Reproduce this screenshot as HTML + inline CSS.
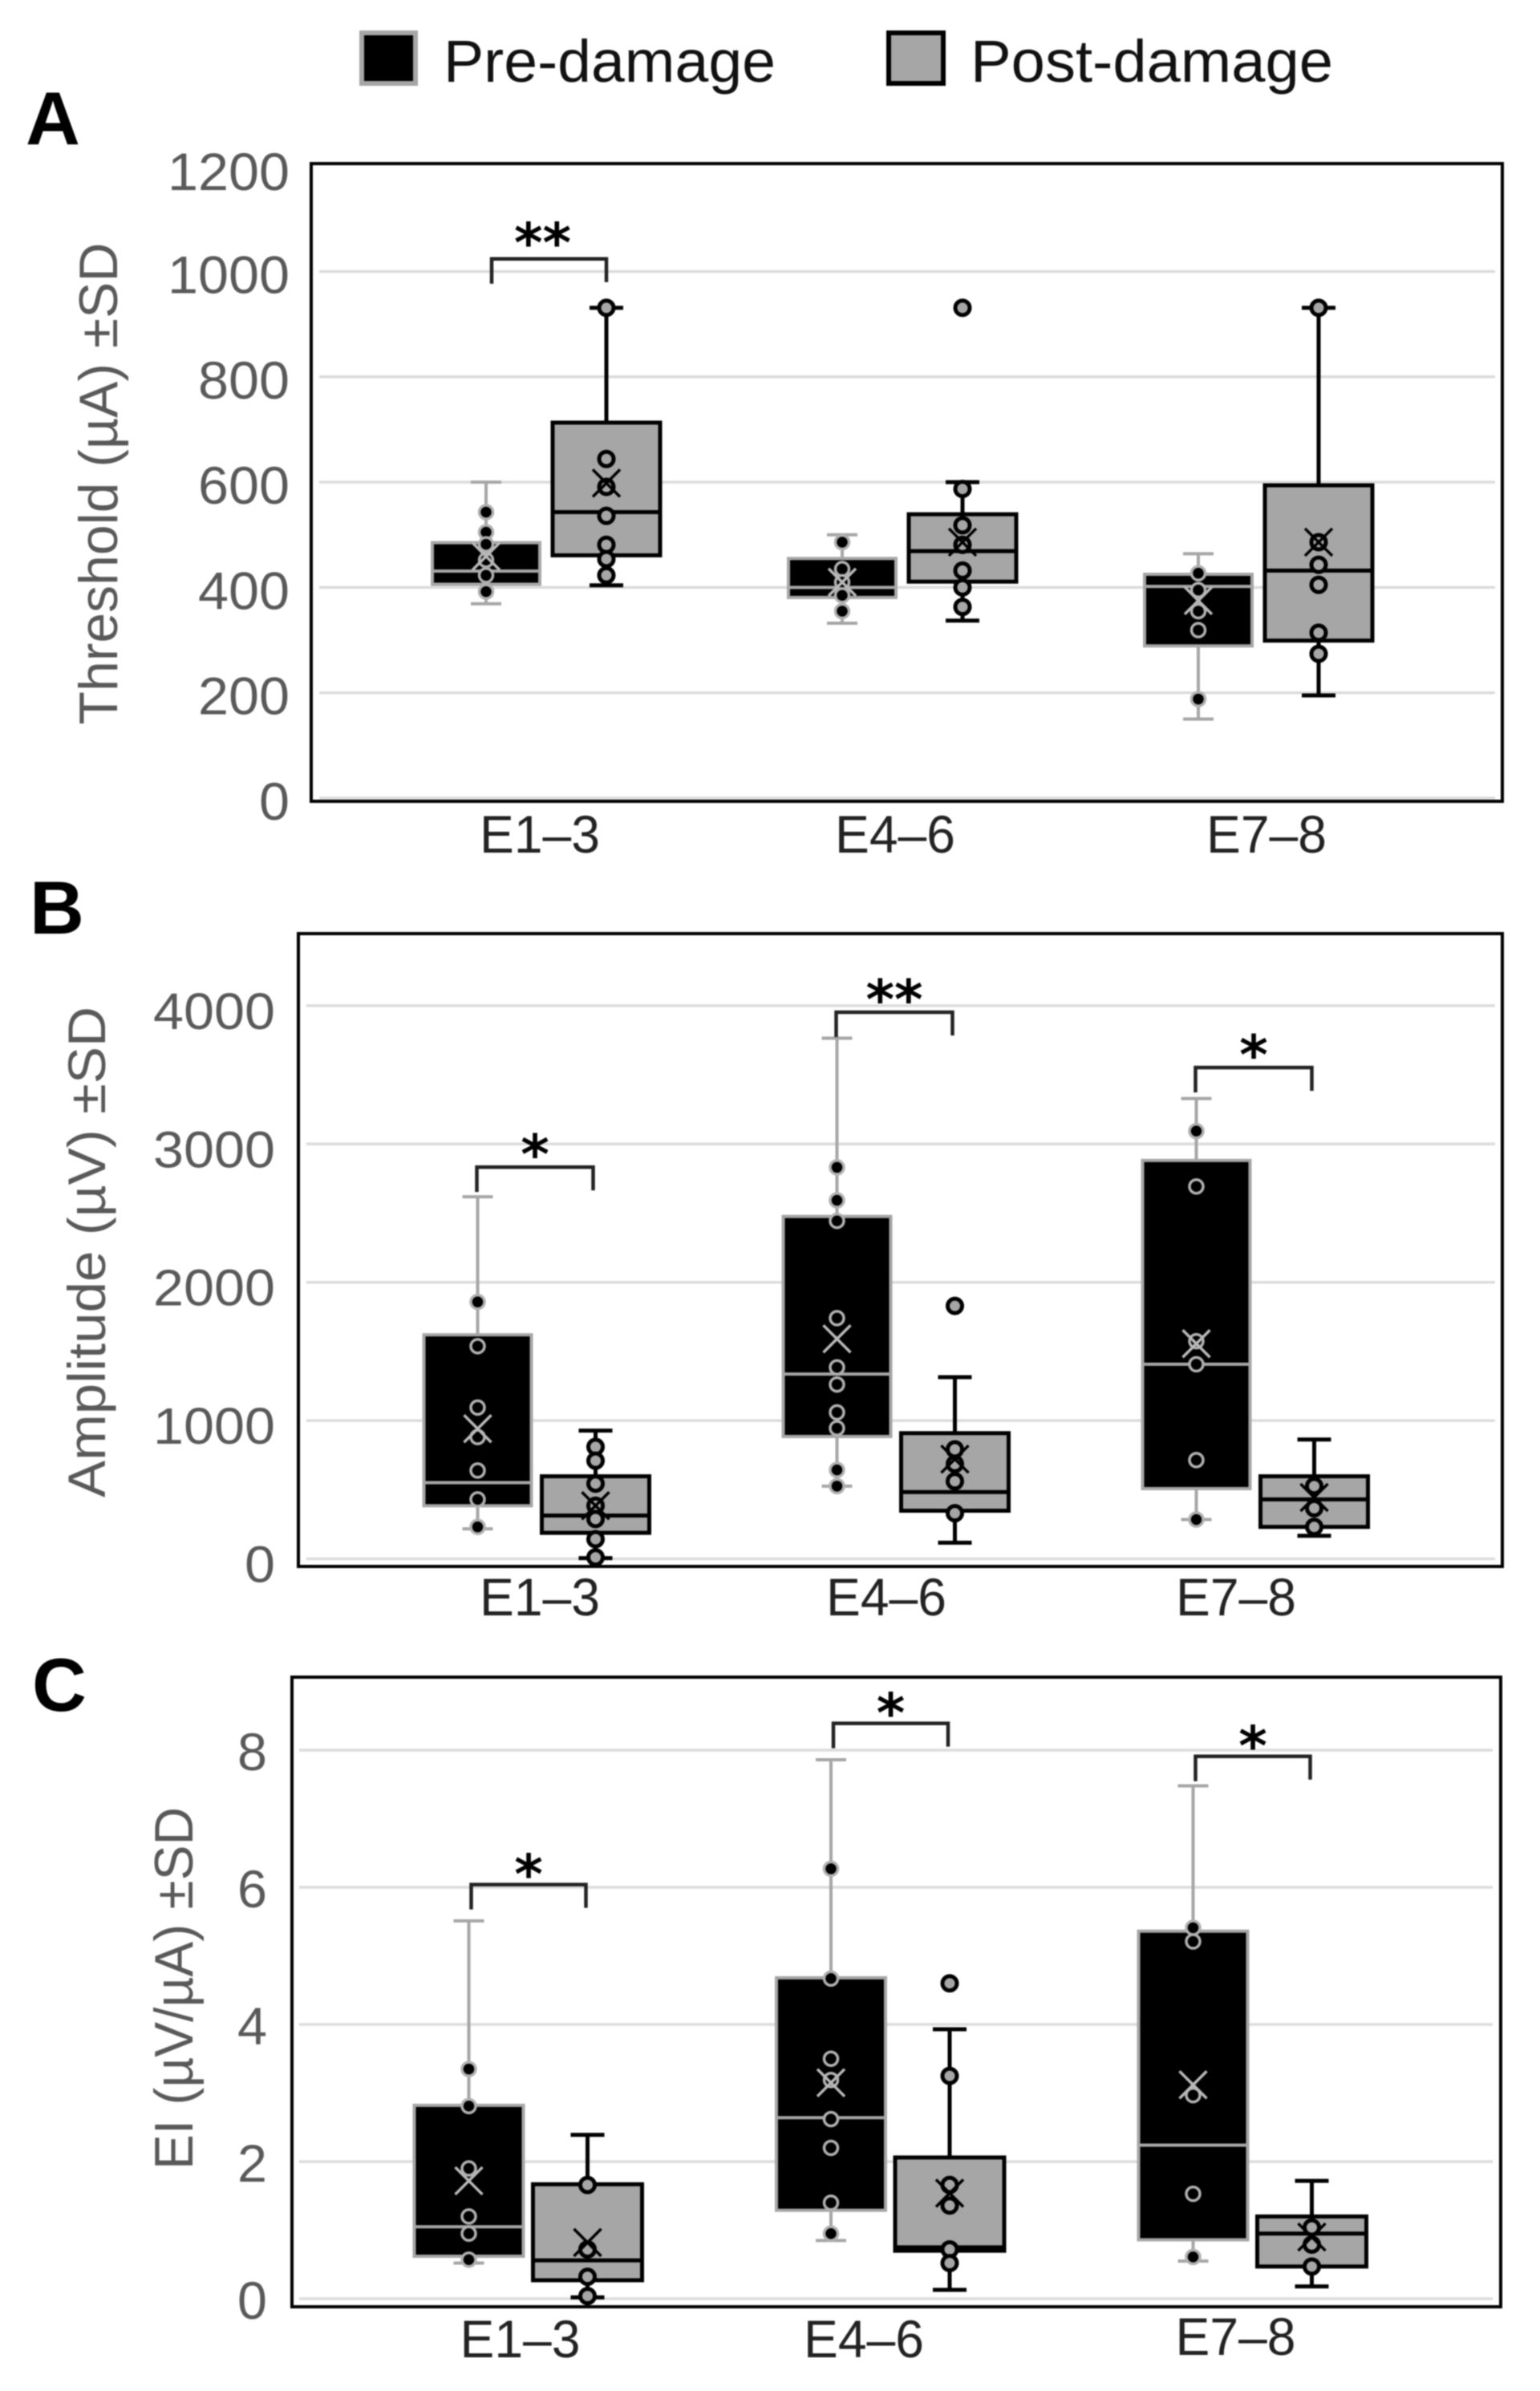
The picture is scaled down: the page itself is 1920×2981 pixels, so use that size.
<!DOCTYPE html>
<html lang="en">
<head>
<meta charset="utf-8">
<title>Threshold, amplitude and EI before and after damage</title>
<style>
html,body{margin:0;padding:0;background:#fff;width:1920px;height:2981px;overflow:hidden}
svg{display:block;filter:blur(0.9px)}
text{font-family:"Liberation Sans",sans-serif}
</style>
</head>
<body>
<svg id="figure" xmlns="http://www.w3.org/2000/svg" width="1920" height="2981" viewBox="0 0 1920 2981">
  <rect x="0" y="0" width="1920" height="2981" fill="#fff"/>
  <g>
    <rect x="451" y="41" width="67" height="63" fill="#000" stroke="#a6a6a6" stroke-width="6"/>
    <text x="553" y="102" font-size="74" textLength="414" lengthAdjust="spacingAndGlyphs" fill="#111">Pre-damage</text>
    <rect x="1108" y="41" width="68" height="63" fill="#a6a6a6" stroke="#000" stroke-width="6"/>
    <text x="1210" y="102" font-size="74" textLength="452" lengthAdjust="spacingAndGlyphs" fill="#111">Post-damage</text>
  </g>
  <text x="32" y="180" font-size="94" font-weight="bold" fill="#000">A</text>
  <text x="37" y="1164" font-size="94" font-weight="bold" fill="#000">B</text>
  <text x="40" y="2133" font-size="94" font-weight="bold" fill="#000">C</text>

  <text transform="translate(146,603) rotate(-90)" text-anchor="middle" font-size="68" textLength="601" lengthAdjust="spacingAndGlyphs" fill="#595959">Threshold (µA) ±SD</text>
  <text transform="translate(131,1561) rotate(-90)" text-anchor="middle" font-size="66" textLength="612" lengthAdjust="spacingAndGlyphs" fill="#595959">Amplitude (µV) ±SD</text>
  <text transform="translate(240,2479) rotate(-90)" text-anchor="middle" font-size="68" textLength="452" lengthAdjust="spacingAndGlyphs" fill="#595959">EI (µV/µA) ±SD</text>

  <g id="panel-a"></g>
  <g id="panel-b"></g>
  <g id="panel-c"></g>
</svg>
<script>
// Shared category labels
const categories = ["E1–3", "E4–6", "E7–8"];

// Panel A: Threshold (µA)
const aTicks = [0, 200, 400, 600, 800, 1000, 1200];
const aPreQ1 = [406, 381, 289];
const aPreMedian = [431, 400, 402];
const aPreQ3 = [485, 455, 425];
const aPreLow = [369, 332, 150];
const aPreHigh = [600, 500, 464];
const aPreMean = [459, 410, 375];
const aPrePoints = [[543, 505, 482, 452, 423, 392], [486, 435, 410, 385, 355], [427, 395, 355, 319, 188]];
const aPostQ1 = [461, 411, 299];
const aPostMedian = [543, 469, 432];
const aPostQ3 = [713, 539, 594];
const aPostLow = [404, 337, 195];
const aPostHigh = [931, 600, 931];
const aPostMean = [598, 486, 486];
const aPostPoints = [[931, 644, 591, 536, 481, 454, 423], [931, 587, 518, 481, 432, 400, 363], [931, 486, 443, 405, 314, 274]];
const aBrackets = [1024, null, null];
const aStars = ["**", "", ""];

// Panel B: Amplitude (µV)
const bTicks = [0, 1000, 2000, 3000, 4000];
const bPreQ1 = [384, 885, 508];
const bPreMedian = [551, 1336, 1407];
const bPreQ3 = [1620, 2476, 2881];
const bPreLow = [217, 526, 284];
const bPreHigh = [2618, 3765, 3329];
const bPreMean = [941, 1591, 1556];
const bPrePoints = [[1858, 1538, 1094, 881, 639, 430, 231], [2831, 2593, 2444, 1741, 1385, 1261, 1059, 945, 643, 526], [3094, 2693, 1574, 1407, 714, 284]];
const bPostQ1 = [188, 348, 231];
const bPostMedian = [313, 483, 430];
const bPostQ3 = [597, 909, 597];
const bPostLow = [5, 117, 167];
const bPostHigh = [927, 1314, 863];
const bPostMean = [384, 721, 444];
const bPostPoints = [[810, 710, 544, 384, 288, 142, 11], [1829, 792, 686, 561, 330], [526, 366, 231]];
const bBrackets = [2833, 3953, 3553];
const bStars = ["*", "**", "*"];

// Panel C: EI (µV/µA)
const cTicks = [0, 2, 4, 6, 8];
const cPreQ1 = [0.62, 1.29, 0.86];
const cPreMedian = [1.05, 2.64, 2.24];
const cPreQ3 = [2.82, 4.68, 5.36];
const cPreLow = [0.52, 0.85, 0.55];
const cPreHigh = [5.51, 7.86, 7.48];
const cPreMean = [1.72, 3.15, 3.12];
const cPrePoints = [[3.35, 2.81, 1.90, 1.20, 0.95, 0.57], [6.27, 4.67, 3.50, 3.19, 2.62, 2.20, 1.40, 0.95], [5.41, 5.21, 2.97, 1.53, 0.61]];
const cPostQ1 = [0.27, 0.70, 0.47];
const cPostMedian = [0.56, 0.75, 0.95];
const cPostQ3 = [1.67, 2.06, 1.20];
const cPostLow = [0.02, 0.13, 0.18];
const cPostHigh = [2.39, 3.93, 1.72];
const cPostMean = [0.82, 1.54, 0.90];
const cPostPoints = [[1.66, 0.72, 0.32, 0.04], [4.60, 3.25, 1.66, 1.36, 0.72, 0.52], [1.04, 0.79, 0.47]];
const cBrackets = [6.04, 8.39, 7.91];
const cStars = ["*", "*", "*"];

const SVGNS = "http://www.w3.org/2000/svg";
const GREY = "#a6a6a6";

function make(parent, tag, props) {
  const el = document.createElementNS(SVGNS, tag);
  for (const k in props) el.setAttribute(k, props[k]);
  parent.appendChild(el);
  return el;
}

function drawBox(layer, cx, halfW, capW, yOf, q1, med, q3, lo, hi, mean, pts, pre) {
  const edge = pre ? GREY : "#000";
  const fill = pre ? "#000" : GREY;
  const sw = pre ? 4 : 5;
  const group = make(layer, "g", {});
  
  

  const whisker = make(group, "line", {x1: cx, x2: cx, y1: yOf(lo), y2: yOf(hi), stroke: edge, "stroke-width": sw});
  
  

  const capLow = make(group, "line", {x1: cx - capW, x2: cx + capW, y1: yOf(lo), y2: yOf(lo), stroke: edge, "stroke-width": sw});
  
  

  const capHigh = make(group, "line", {x1: cx - capW, x2: cx + capW, y1: yOf(hi), y2: yOf(hi), stroke: edge, "stroke-width": sw});
  
  

  const rect = make(group, "rect", {x: cx - halfW, y: yOf(q3), width: halfW * 2, height: yOf(q1) - yOf(q3), fill: fill, stroke: edge, "stroke-width": sw});
  
  

  const medLine = make(group, "line", {x1: cx - halfW, x2: cx + halfW, y1: yOf(med), y2: yOf(med), stroke: edge, "stroke-width": sw});
  
  

  pts.forEach(function (v) {
    const p = make(group, "circle", {cx: cx, cy: yOf(v), r: pre ? 8.5 : 9, fill: fill, stroke: pre ? "#b0b0b0" : "#000", "stroke-width": pre ? 3.5 : 5});
    
    
  });

  const my = yOf(mean);
  const markPath = "M" + (cx - 17) + " " + (my - 17) + "L" + (cx + 17) + " " + (my + 17) + "M" + (cx + 17) + " " + (my - 17) + "L" + (cx - 17) + " " + (my + 17);
  const m = make(group, "path", {d: markPath, fill: "none", stroke: pre ? "#b8b8b8" : "#000", "stroke-width": 3.5});
  
  
}

function drawPanel(cfg) {
  const root = document.getElementById(cfg.id);
  const yOf = function (v) { return cfg.y0 - v * cfg.yPerUnit; };
  const xOf = function (i) { return cfg.catStart + cfg.catStep * i; };

  cfg.ticks.forEach(function (t) {
    const y = yOf(t);
    if (t <= cfg.gridMax) {
      const g = make(root, "line", {x1: cfg.gridLeft, x2: cfg.gridRight, y1: y, y2: y, stroke: "#dcdcdc", "stroke-width": 3.5});
      
      
    }
    const label = make(root, "text", {x: cfg.tickRight, y: y + (t === cfg.topTick ? cfg.tickBase + 3 : cfg.tickBase), "text-anchor": "end", "font-size": cfg.tickSize, fill: "#595959", textLength: String(t).length * cfg.digitW, lengthAdjust: "spacingAndGlyphs"});
    label.textContent = t;
    
    
  });

  categories.forEach(function (name, i) {
    const cx = xOf(i);
    const preX = cx - cfg.off;
    const postX = cx + cfg.off;
    drawBox(root, preX, cfg.halfW, 19, yOf, cfg.preQ1[i], cfg.preMed[i], cfg.preQ3[i], cfg.preLo[i], cfg.preHi[i], cfg.preMean[i], cfg.prePts[i], true);
    drawBox(root, postX, cfg.halfW, 21, yOf, cfg.postQ1[i], cfg.postMed[i], cfg.postQ3[i], cfg.postLo[i], cfg.postHi[i], cfg.postMean[i], cfg.postPts[i], false);

    if (cfg.brackets[i] !== null) {
      const by = yOf(cfg.brackets[i]);
      const bx1 = preX + cfg.bracketShift;
      const bx2 = postX - cfg.bracketInset;
      const br = make(root, "path", {d: "M" + bx1 + " " + (by + 31) + "V" + by + "H" + bx2 + "V" + (by + 29), fill: "none", stroke: "#222", "stroke-width": 4.5});
      
      

      const st = make(root, "text", {x: (bx1 + bx2) / 2 + cfg.starShift, y: by + cfg.starDrop, "text-anchor": "middle", "font-size": 68, "font-weight": "bold", fill: "#000"});
      st.setAttribute("style", "font-family:'DejaVu Sans',sans-serif");
      st.textContent = cfg.stars[i];
      
      
    }

    const xl = make(root, "text", {x: cx + cfg.labelNudge[i], y: cfg.labelY[i], "text-anchor": "middle", "font-size": 66, fill: "#222", textLength: 150, lengthAdjust: "spacingAndGlyphs"});
    xl.textContent = name;
    
    
  });

  const frame = make(root, "rect", {x: cfg.left, y: cfg.top, width: cfg.right - cfg.left, height: cfg.bottom - cfg.top, fill: "none", stroke: "#000", "stroke-width": 4});
  
  
}

drawPanel({
  id: "panel-a", left: 388, right: 1873, top: 204, bottom: 999,
  y0: 995, yPerUnit: 0.6565, gridLeft: 398, gridRight: 1864, gridMax: 1000,
  catStart: 681, catStep: 444, off: 75, halfW: 67, topTick: 1200,
  tickRight: 361, tickBase: 27, tickSize: 66, digitW: 38,
  bracketShift: 7, bracketInset: 0, starShift: -8, starDrop: 4,
  labelNudge: [-8, -9, 10], labelY: [1063, 1063, 1063],
  ticks: aTicks, brackets: aBrackets, stars: aStars,
  preQ1: aPreQ1, preMed: aPreMedian, preQ3: aPreQ3, preLo: aPreLow, preHi: aPreHigh, preMean: aPreMean, prePts: aPrePoints,
  postQ1: aPostQ1, postMed: aPostMedian, postQ3: aPostQ3, postLo: aPostLow, postHi: aPostHigh, postMean: aPostMean, postPts: aPostPoints
});

drawPanel({
  id: "panel-b", left: 372, right: 1873, top: 1164, bottom: 1953,
  y0: 1943.5, yPerUnit: 0.1724, gridLeft: 382, gridRight: 1864, gridMax: 4000, topTick: null,
  catStart: 669, catStep: 448, off: 73.5, halfW: 67,
  tickRight: 343, tickBase: 29, tickSize: 64, digitW: 38,
  bracketShift: -1, bracketInset: 3, starShift: 0, starDrop: 8,
  labelNudge: [4, -12, -24], labelY: [2014, 2014, 2014],
  ticks: bTicks, brackets: bBrackets, stars: bStars,
  preQ1: bPreQ1, preMed: bPreMedian, preQ3: bPreQ3, preLo: bPreLow, preHi: bPreHigh, preMean: bPreMean, prePts: bPrePoints,
  postQ1: bPostQ1, postMed: bPostMedian, postQ3: bPostQ3, postLo: bPostLow, postHi: bPostHigh, postMean: bPostMean, postPts: bPostPoints
});

drawPanel({
  id: "panel-c", left: 364, right: 1871, top: 2091, bottom: 2876,
  y0: 2866, yPerUnit: 85.5, gridLeft: 373, gridRight: 1861, gridMax: 8, topTick: null,
  catStart: 658.5, catStep: 451.5, off: 74, halfW: 68,
  tickRight: 333, tickBase: 25, tickSize: 66, digitW: 37,
  bracketShift: 3, bracketInset: 2, starShift: 0, starDrop: 11,
  labelNudge: [-10, -33, -21], labelY: [2939, 2939, 2936],
  ticks: cTicks, brackets: cBrackets, stars: cStars,
  preQ1: cPreQ1, preMed: cPreMedian, preQ3: cPreQ3, preLo: cPreLow, preHi: cPreHigh, preMean: cPreMean, prePts: cPrePoints,
  postQ1: cPostQ1, postMed: cPostMedian, postQ3: cPostQ3, postLo: cPostLow, postHi: cPostHigh, postMean: cPostMean, postPts: cPostPoints
});
</script>
</body>
</html>
